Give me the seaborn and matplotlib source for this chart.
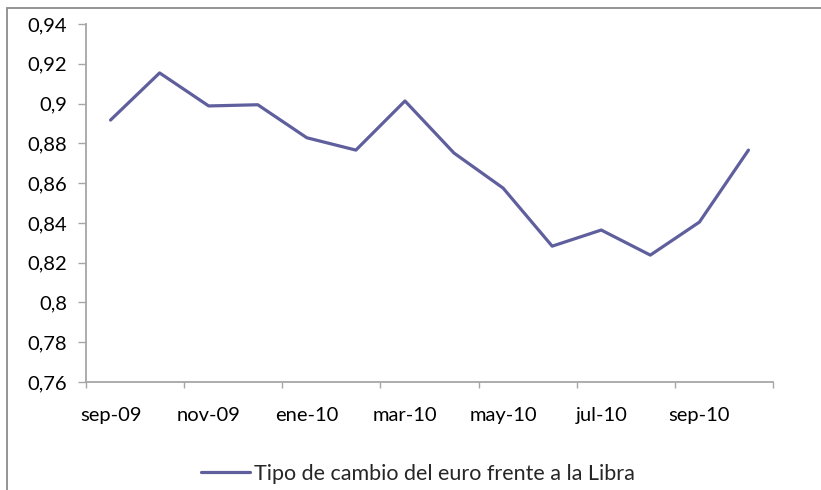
import matplotlib
matplotlib.use("Agg")
import matplotlib.pyplot as plt
import seaborn as sns
import pandas as pd
from matplotlib.patches import Rectangle
from matplotlib.lines import Line2D

# ── Data ────────────────────────────────────────────────────────────────────
MONTHS = ["sep-09", "oct-09", "nov-09", "dic-09", "ene-10", "feb-10", "mar-10",
          "abr-10", "may-10", "jun-10", "jul-10", "ago-10", "sep-10", "oct-10"]
EUR_GBP = [0.8917, 0.9154, 0.8988, 0.8994, 0.8828, 0.8766, 0.9013,
           0.8751, 0.8575, 0.8283, 0.8364, 0.8238, 0.8404, 0.8766]
SERIES_LABEL = "Tipo de cambio del euro frente a la Libra"
Y_TICKS = [0.76, 0.78, 0.80, 0.82, 0.84, 0.86, 0.88, 0.90, 0.92, 0.94]

LINE_COLOR = "#5f5f9e"
AXIS_GREY = "#a6a6a6"
FONT = ["Lato", "DejaVu Sans"]
FS = 14.5
FS_LEGEND = 15.5

df = pd.DataFrame({"mes": MONTHS, "valor": EUR_GBP})

sns.set_style("white")
plt.rcParams["font.family"] = FONT

fig = plt.figure(figsize=(8.21, 4.90), dpi=100)
ax = fig.add_axes([86 / 821, 108 / 490, 687 / 821, 358 / 490])

sns.lineplot(data=df, x="mes", y="valor", ax=ax, color=LINE_COLOR,
             linewidth=2.3, sort=False)

# ── Axes styling (Excel-like category axis) ────────────────────────────────
ax.set_xlim(-0.5, len(MONTHS) - 0.5)
ax.set_ylim(Y_TICKS[0], Y_TICKS[-1])
ax.set_yticks(Y_TICKS)
ax.set_yticklabels([f"{v:g}".replace(".", ",") for v in Y_TICKS],
                   fontsize=FS, color="black")

ax.set_xticks([i - 0.5 for i in range(0, len(MONTHS) + 1, 2)])
ax.set_xticklabels([])
ax.set_xticks(list(range(0, len(MONTHS), 2)), minor=True)
ax.set_xticklabels(MONTHS[::2], minor=True, fontsize=FS, color="black")

ax.tick_params(axis="y", which="major", direction="out", length=5.5,
               width=1, color=AXIS_GREY, pad=8, left=True)
ax.tick_params(axis="x", which="major", direction="out", length=4.5,
               width=1, color=AXIS_GREY, bottom=True)
ax.tick_params(axis="x", which="minor", length=0, pad=18, bottom=True)

for side in ["top", "right"]:
    ax.spines[side].set_visible(False)
for side in ["left", "bottom"]:
    ax.spines[side].set_color(AXIS_GREY)
    ax.spines[side].set_linewidth(1.3)

ax.set_xlabel("")
ax.set_ylabel("")
ax.grid(False)

# ── Legend at the bottom ────────────────────────────────────────────────────
handle = Line2D([], [], color=LINE_COLOR, linewidth=2.3)
fig.legend([handle], [SERIES_LABEL], loc="center",
           bbox_to_anchor=(418 / 821, 1 - 474 / 490), frameon=False,
           fontsize=FS_LEGEND, handlelength=2.3, handletextpad=0.2)

# ── Outer chart frame (clipped at right and bottom) ─────────────────────────
fig.patches.append(Rectangle((7 / 821, -0.1), 1.0, 1 - 8 / 490 + 0.1,
                             transform=fig.transFigure, fill=False,
                             edgecolor="#8c8c8c", linewidth=1.3))

fig.savefig("out.png", dpi=100)
